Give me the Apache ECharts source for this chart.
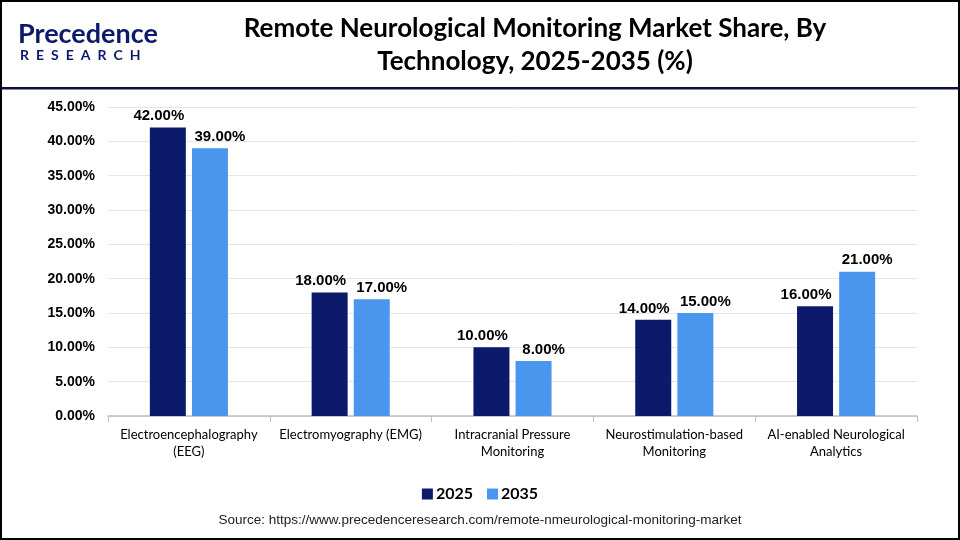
<!DOCTYPE html>
<html><head><meta charset="utf-8">
<script src="https://cdn.jsdelivr.net/npm/echarts@6/dist/echarts.min.js"></script>
<style>html,body{margin:0;padding:0;background:#fff}#c{width:960px;height:540px}</style>
</head><body><div id="c"></div>
<script>
const categories = ["Electroencephalography\n(EEG)", "Electromyography (EMG)", "Intracranial Pressure\nMonitoring", "Neurostimulation-based\nMonitoring", "AI-enabled Neurological\nAnalytics"];
const values2025 = [42, 18, 10, 14, 16];
const values2035 = [39, 17, 8, 15, 21];
const seriesNames = ["2025", "2035"];
const yTicks = {min: 0, max: 45, interval: 5};

const cal = "'Lato', 'Open Sans', sans-serif";
const arial = "'Liberation Sans', Arial, sans-serif";
const chart = echarts.init(document.getElementById('c'));
chart.setOption({
  backgroundColor: '#fff',
  animation: false,
  title: {
    text: 'Remote Neurological Monitoring Market Share, By\nTechnology, 2025-2035 (%)',
    left: 530, top: 7, textAlign: 'center',
    textStyle: {fontFamily: cal, fontWeight: 'bold', fontSize: 26, lineHeight: 33, color: '#000'}
  },
  graphic: [
    {type: 'rect', shape: {x: 1, y: 1, width: 958, height: 538}, style: {fill: 'none', stroke: '#000', lineWidth: 2}, silent: true, z: 100},
    {type: 'rect', shape: {x: 1, y: 87, width: 958, height: 2.5}, style: {fill: '#0b0f45'}},
    {type: 'text', x: 18, y: 21, style: {text: 'Precedence', font: "bold 27px 'Lato', sans-serif", fill: '#0d1a6b'}},
    {type: 'text', x: 20, y: 48, style: {text: 'R\u2002E\u2002S\u2002E\u2002A\u2002R\u2002C\u2002H', font: "bold 14px 'Lato', sans-serif", fill: '#0d1a6b'}},
    {type: 'text', x: 480, y: 513, style: {text: 'Source: https://www.precedenceresearch.com/remote-nmeurological-monitoring-market', font: "13.5px 'Liberation Sans', Arial, sans-serif", fill: '#222', align: 'center'}}
  ],
  legend: {
    data: seriesNames, bottom: 33, left: 'center', itemWidth: 11, itemHeight: 11, itemGap: 14,
    icon: 'rect',
    textStyle: {fontFamily: cal, fontWeight: 'bold', fontSize: 16, color: '#000', padding: [0,0,0,-2]}
  },
  grid: {left: 108, right: 43, top: 107, bottom: 124},
  xAxis: {
    type: 'category', data: categories,
    axisLine: {lineStyle: {color: '#bfbfbf', width: 1.5}},
    axisTick: {show: true, length: 6, lineStyle: {color: '#bfbfbf'}},
    axisLabel: {fontFamily: cal, fontSize: 13, color: '#000', lineHeight: 17, margin: 10, interval: 0}
  },
  yAxis: {
    type: 'value', min: yTicks.min, max: yTicks.max, interval: yTicks.interval,
    axisLine: {show: false}, axisTick: {show: false},
    splitLine: {lineStyle: {color: '#e6e6e6'}},
    axisLabel: {formatter: v => v.toFixed(2) + '%', fontFamily: arial, fontWeight: 'bold', fontSize: 14, color: '#000', margin: 13}
  },
  series: [
    {name: seriesNames[0], type: 'bar', data: values2025, barWidth: 36, barGap: '17%',
     itemStyle: {color: '#0b1a6b'},
     label: {show: true, position: 'top', offset: [-9, 0], distance: 4, formatter: p => p.value.toFixed(2) + '%', fontFamily: arial, fontWeight: 'bold', fontSize: 15, color: '#000'}},
    {name: seriesNames[1], type: 'bar', data: values2035, barWidth: 36,
     itemStyle: {color: '#4a96ee'},
     label: {show: true, position: 'top', offset: [10, 0], distance: 4, formatter: p => p.value.toFixed(2) + '%', fontFamily: arial, fontWeight: 'bold', fontSize: 15, color: '#000'}}
  ]
});
</script></body></html>
